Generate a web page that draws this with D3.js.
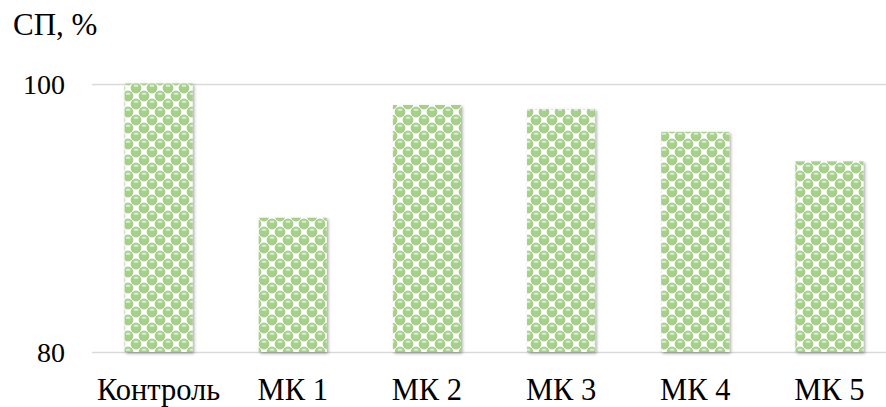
<!DOCTYPE html>
<html>
<head>
<meta charset="utf-8">
<script src="https://cdn.jsdelivr.net/npm/d3@7"></script>
<style>
  body { margin: 0; background: #fff; }
  svg { display: block; font-family: "Liberation Serif", "Times New Roman", serif; }
</style>
</head>
<body>
<div id="chart"></div>
<script>
// chart data
const categories = ['Контроль', 'МК 1', 'МК 2', 'МК 3', 'МК 4', 'МК 5'];
const values = [100, 90.0, 98.4, 98.1, 96.4, 94.2];
const yTicks = [80, 100];
const yLabel = 'СП, %';

const width = 886;
const height = 407;

const svg = d3.select('#chart')
  .append('svg')
  .attr('width', width)
  .attr('height', height);

const defs = svg.append('defs');

// green "spheres" fill, roughly like the office pattern
const tile = 16;
const pat = defs.append('pattern')
  .attr('id', 'spheres')
  .attr('patternUnits', 'userSpaceOnUse')
  .attr('width', tile)
  .attr('height', tile);
pat.append('rect').attr('width', tile).attr('height', tile).attr('fill', '#ffffff');
[[0, 0], [tile, 0], [0, tile], [tile, tile], [tile / 2, tile / 2]].forEach(([cx, cy]) => {
  pat.append('circle').attr('cx', cx).attr('cy', cy).attr('r', 5.4).attr('fill', '#a6cf8a');
  pat.append('ellipse').attr('cx', cx).attr('cy', cy - 2.2).attr('rx', 2.6).attr('ry', 1.2).attr('fill', '#d6ebc9');
});

const shadow = defs.append('filter')
  .attr('id', 'shadow')
  .attr('x', '-10%').attr('y', '-10%')
  .attr('width', '130%').attr('height', '130%');
shadow.append('feDropShadow')
  .attr('dx', 1.5).attr('dy', 1.5)
  .attr('stdDeviation', 1.5)
  .attr('flood-color', '#000')
  .attr('flood-opacity', 0.35);

const x = d3.scaleBand()
  .domain(categories)
  .range([91.5, 896.5])
  .paddingInner(0.493)
  .paddingOuter(0.2465);

const y = d3.scaleLinear()
  .domain([80, 100])
  .range([352, 83.5]);

// gridlines
svg.append('g')
  .selectAll('line')
  .data(yTicks)
  .enter().append('line')
  .attr('x1', 92)
  .attr('x2', width)
  .attr('y1', d => Math.round(y(d)) + 0.5)
  .attr('y2', d => Math.round(y(d)) + 0.5)
  .attr('stroke', '#d9d9d9')
  .attr('stroke-width', 1.5);

// bars
svg.append('g')
  .selectAll('rect')
  .data(values)
  .enter().append('rect')
  .attr('x', (d, i) => x(categories[i]))
  .attr('y', d => y(d))
  .attr('width', x.bandwidth())
  .attr('height', d => y(80) - y(d))
  .attr('fill', 'url(#spheres)')
  .attr('filter', 'url(#shadow)');

// y tick labels
svg.append('g')
  .selectAll('text')
  .data(yTicks)
  .enter().append('text')
  .attr('x', 65)
  .attr('y', d => y(d) + 10)
  .attr('text-anchor', 'end')
  .attr('font-size', 28)
  .attr('fill', '#000')
  .text(d => d);

// category labels
svg.append('g')
  .selectAll('text')
  .data(categories)
  .enter().append('text')
  .attr('x', d => x(d) + x.bandwidth() / 2)
  .attr('y', 400)
  .attr('text-anchor', 'middle')
  .attr('font-size', 30.5)
  .attr('fill', '#000')
  .text(d => d);

svg.append('text')
  .attr('x', 13)
  .attr('y', 35)
  .attr('font-size', 31)
  .attr('fill', '#000')
  .text(yLabel);
</script>
</body>
</html>
